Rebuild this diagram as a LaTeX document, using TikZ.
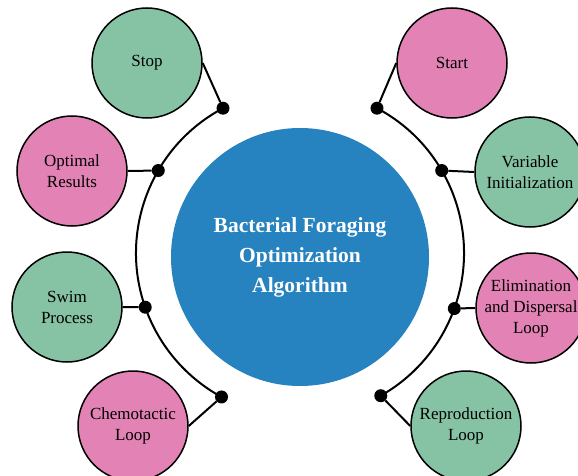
\documentclass[tikz,border=0pt]{standalone}
\usepackage{fontspec}
\setmainfont{Liberation Serif}
\definecolor{pinkc}{RGB}{227,130,180}
\definecolor{greenc}{RGB}{134,195,164}
\definecolor{bluec}{RGB}{38,131,192}
\begin{document}
\begin{tikzpicture}[x=1pt,y=1pt,
  sat/.style={circle,draw=black,line width=1.5pt,minimum size=110pt,inner sep=0pt,align=center,
    font=\fontsize{17}{21}\selectfont,text=black},
  pinksat/.style={sat,fill=pinkc},
  greensat/.style={sat,fill=greenc},
  dotn/.style={circle,fill=black,minimum size=13pt,inner sep=0pt},
  link/.style={line width=2pt,black},
  hub/.style={circle,fill=bluec,minimum size=258pt,inner sep=0pt,align=center,text=white,
    font=\fontsize{21.5}{30}\selectfont\bfseries}]
\useasboundingbox (0,0) rectangle (578,-476);
\coordinate (C) at (300,-253);
\node[hub] (hub) at (300,-257) {Bacterial Foraging\\Optimization\\Algorithm};
% dots on the ring
\path (C) ++(118:164) node[dotn] (dstop) {};
\path (C) ++(149.8:164) node[dotn] (dopt) {};
\path (C) ++(199.3:164) node[dotn] (dswim) {};
\path (C) ++(241.4:164) node[dotn] (dchem) {};
\path (C) ++(62:164) node[dotn] (dstart) {};
\path (C) ++(30.2:164) node[dotn] (dvar) {};
\path (C) ++(-19.8:164) node[dotn] (delim) {};
\path (C) ++(-60.5:164) node[dotn] (drep) {};
% ring arcs
\draw[link] (dstop.center) arc[start angle=118,end angle=241.4,radius=164];
\draw[link] (dstart.center) arc[start angle=62,end angle=-60.5,radius=164];
% satellites
\node[greensat] (stop) at (147,-63) {Stop};
\node[pinksat] (start) at (452,-63) {Start};
\node[pinksat] (opt) at (72,-171) {Optimal\\Results};
\node[greensat] (var) at (530,-172) {Variable\\Initialization};
\node[greensat] (swim) at (67,-307) {Swim\\Process};
\node[pinksat] (elim) at (531,-308) {Elimination\\and Dispersal\\Loop};
\node[pinksat] (chem) at (133,-426) {Chemotactic\\Loop};
\node[greensat] (rep) at (466,-426) {Reproduction\\Loop};
% connectors
\draw[link] (dstop) -- (stop.east);
\draw[link] (dstart) -- (start.west);
\draw[link] (dopt) -- (opt.east);
\draw[link] (dvar) -- (var.west);
\draw[link] (dswim) -- (swim.east);
\draw[link] (delim) -- (elim.west);
\draw[link] (dchem) -- (chem.east);
\draw[link] (drep) -- (rep.west);
\end{tikzpicture}
\end{document}
